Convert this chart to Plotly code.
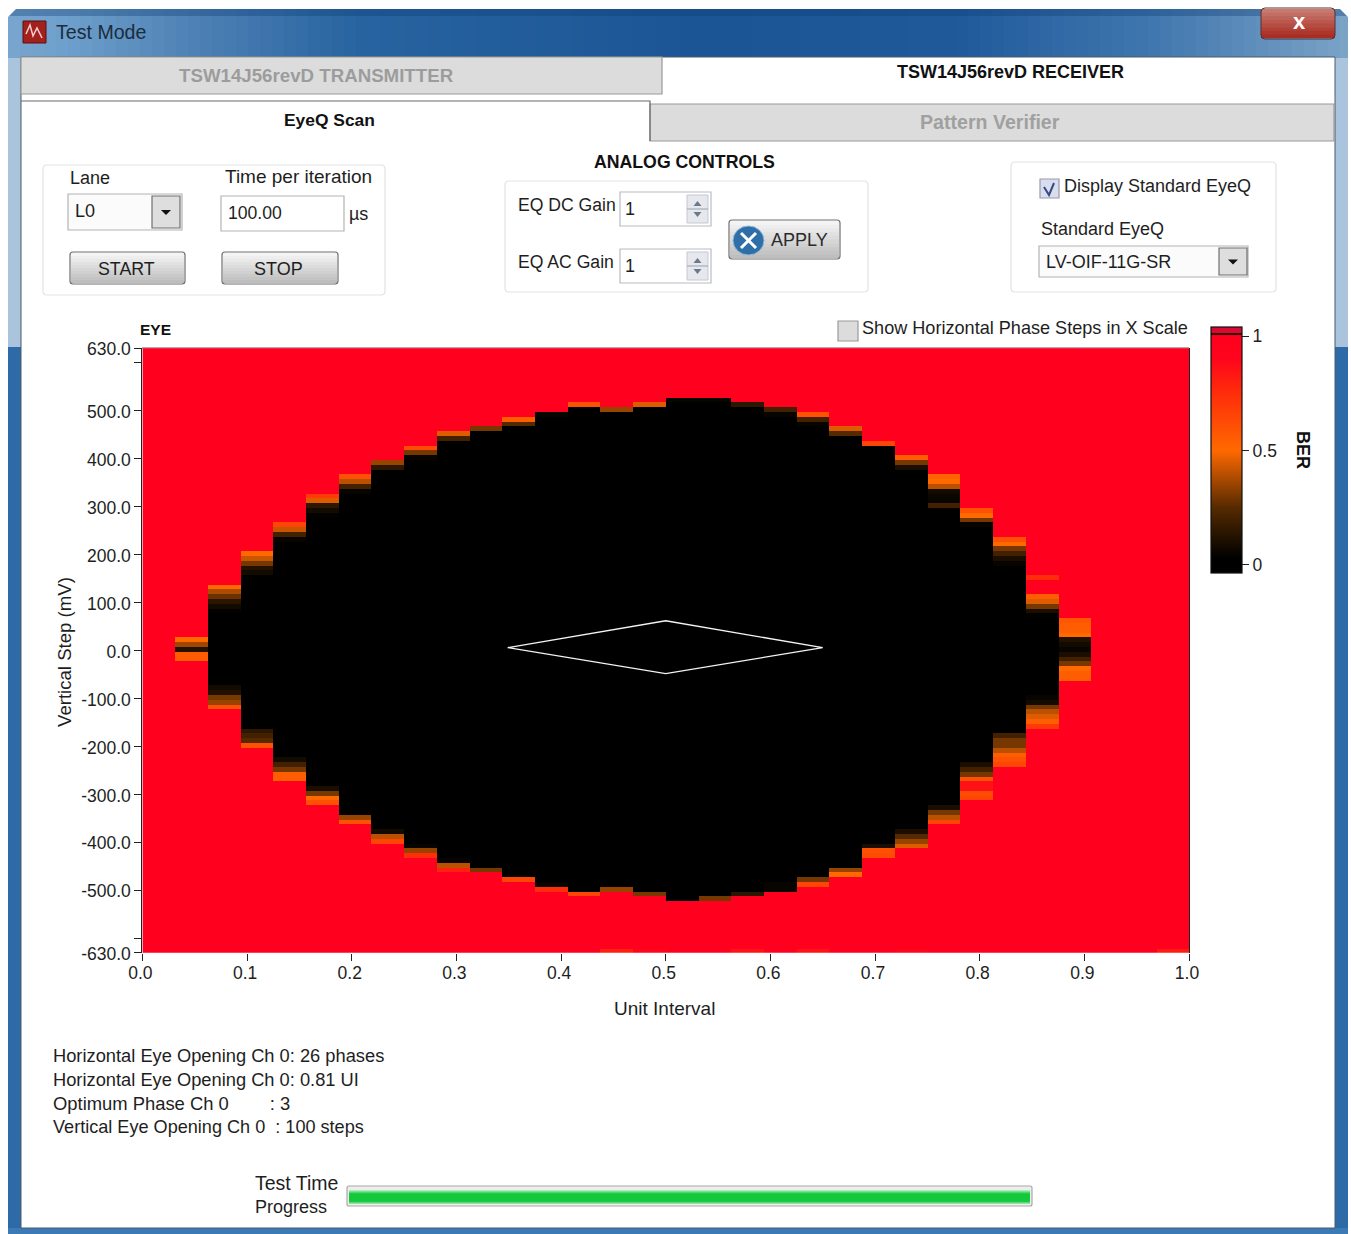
import plotly.graph_objects as go

W, H = 1351, 1234

# ---------- data ----------
phase_edges = [k / 32 for k in range(33)]
step_edges = list(range(-633, 638, 10))

# top edge (mV, nominal) of the dark eye per phase column, None = no eye in that column
eye_top = [None, 30, 140, 210, 270, 330, 370, 400, 430, 460, 470, 490, 500, 520, 510, 520,
           530, 530, 520, 510, 500, 470, 440, 410, 370, 300, 240, 160, 70, None, None, None]
# bottom edge (mV, nominal) of the dark eye per phase column
eye_bottom = [None, -20, -120, -200, -270, -320, -360, -400, -430, -460, -460, -480, -500, -510, -500, -510,
              -520, -520, -510, -500, -490, -470, -430, -410, -360, -310, -240, -160, -60, None, None, None]
# BER per 10 mV row, walking down from the top edge
upper_bands = [[], [.5, .36, .12, .56, .56], [.5, .38, .28, .14, .08, .04], [.5, .42, .3, .12, .08, .03],
               [.65, .42, .2, .05], [.7, .45, .15, .08, .04], [.6, .4, .2, .05], [.35, .15, .03],
               [.62, .3, .05], [.45, .2], [.3], [.55, .25], [.05], [.6], [.35], [.45],
               [.05], [.05], [.15], [.2, .05], [.6, .2, .05], [.45, .25], [.65], [.55, .3, .1],
               [.52, .5, .4, .08, .06, .05, .2], [.6, .5, .3, .05], [.6, .5, .3, .2, .1, .05],
               [.75, 1, 1, 1, .55, .45, .3, .1, .04], [.58, .55, .55, .5, .12, .08, .05], [], [], []]
# BER per 10 mV row, walking up from the bottom edge
lower_bands = [[], [], [.6, .35, .3, .12, .08], [.6, .25, .2, .15], [.55, .55, .3, .2, .08], [.6, .5, .3, .1],
               [.6, .35, .04], [.65, .4, .08], [.75, .35, .05], [.8, .4, .05], [.3, .02], [.65, .03],
               [.75, .05], [.65], [.35], [.3], [0], [.3], [.15], [.05, .05], [.65, .3], [.5, .35, .03],
               [.62, .6, .1], [.45, .35, .25, .1], [.65, .4, .3, .1],
               [.65, .62, .85, .85, .6, .3, .2, .1], [.65, .6, .55, .4, .3, .3, .2],
               [.7, .55, .45, .4, .3, .08, .05], [.55, .55, .5, .3, .2, .1, .05], [], [], []]
# BER of the lowest row per column (slightly below the red level in a few columns)
floor_columns = [14, 15, 18, 20, 23, 31]
floor_values = [.8, .9, .85, .85, .9, .82]

# standard eye mask
mask_ui = [0.349, 0.5, 0.65, 0.5, 0.349]
mask_mv = [6, 62, 6, -48, 6]

x_tick_vals = [i / 10 for i in range(11)]
x_tick_text = ["0.0", "0.1", "0.2", "0.3", "0.4", "0.5", "0.6", "0.7", "0.8", "0.9", "1.0"]
y_tick_vals = [630, 600, 500, 400, 300, 200, 100, 0, -100, -200, -300, -400, -500, -600, -630]
y_tick_text = ["630.0", "", "500.0", "400.0", "300.0", "200.0", "100.0", "0.0", "-100.0", "-200.0",
               "-300.0", "-400.0", "-500.0", "", "-630.0"]
cbar_vals = [0, 0.5, 1]
cbar_text = ["0", "0.5", "1"]

# ---------- build the cell grid ----------
n_rows = len(step_edges) - 1
n_cols = len(phase_edges) - 1
z = [[1.0] * n_cols for _ in range(n_rows)]
for c in range(n_cols):
    if eye_top[c] is None:
        continue
    lo = (eye_bottom[c] + 630) // 10
    hi = (eye_top[c] + 630) // 10
    for r in range(lo, hi):
        z[r][c] = 0.0
    for i, v in enumerate(upper_bands[c]):
        z[hi - 1 - i][c] = v
    for i, v in enumerate(lower_bands[c]):
        z[lo + i][c] = v
for c, v in zip(floor_columns, floor_values):
    z[0][c] = v

zmin, zmax = -0.035, 1.04
def st(v):
    return (v - zmin) / (zmax - zmin)
scale = [[0, "rgb(0,0,0)"], [st(.03), "rgb(0,0,0)"], [st(.25), "rgb(85,42,0)"], [st(.5), "rgb(255,105,0)"],
         [st(.75), "rgb(255,45,10)"], [st(.9), "rgb(255,5,28)"], [st(1.0), "rgb(255,0,30)"],
         [st(1.004), "rgb(240,0,25)"], [st(1.006), "rgb(60,0,5)"], [st(1.014), "rgb(60,0,5)"],
         [st(1.016), "rgb(215,10,50)"], [1, "rgb(215,10,50)"]]

# ---------- pixel helpers for the window chrome ----------
def X(p): return p / W
def Y(p): return 1 - p / H

shapes = []
def rect(x0, y0, x1, y1, fill=None, line=None, lw=1, opacity=1):
    shapes.append(dict(type="rect", xref="paper", yref="paper", x0=X(x0), x1=X(x1), y0=Y(y1), y1=Y(y0),
                       fillcolor=fill or "rgba(0,0,0,0)", opacity=opacity,
                       line=dict(color=line or "rgba(0,0,0,0)", width=lw if line else 0), layer="below"))
def rr(x0, y0, x1, y1, r=3, fill=None, line=None, lw=1):
    p = (f"M{X(x0+r)},{Y(y0)} L{X(x1-r)},{Y(y0)} Q{X(x1)},{Y(y0)} {X(x1)},{Y(y0+r)} L{X(x1)},{Y(y1-r)} "
         f"Q{X(x1)},{Y(y1)} {X(x1-r)},{Y(y1)} L{X(x0+r)},{Y(y1)} Q{X(x0)},{Y(y1)} {X(x0)},{Y(y1-r)} "
         f"L{X(x0)},{Y(y0+r)} Q{X(x0)},{Y(y0)} {X(x0+r)},{Y(y0)} Z")
    shapes.append(dict(type="path", xref="paper", yref="paper", path=p, fillcolor=fill or "rgba(0,0,0,0)",
                       line=dict(color=line or "rgba(0,0,0,0)", width=lw if line else 0), layer="below"))
def poly(pts, fill=None, line=None, lw=1, close=True):
    p = "M" + " L".join(f"{X(a)},{Y(b)}" for a, b in pts) + (" Z" if close else "")
    shapes.append(dict(type="path", xref="paper", yref="paper", path=p, fillcolor=fill or "rgba(0,0,0,0)",
                       line=dict(color=line or "rgba(0,0,0,0)", width=lw if line else 0), layer="below"))
def mix(a, b, t):
    return "rgb(%d,%d,%d)" % tuple(a[i] + (b[i] - a[i]) * t for i in range(3))
def vgrad(x0, y0, x1, y1, c0, c1, n=8):
    h = (y1 - y0) / n
    for i in range(n):
        rect(x0, y0 + i * h, x1, min(y0 + (i + 1) * h + .5, y1), fill=mix(c0, c1, i / max(n - 1, 1)))
def hgrad_stops(y0, y1, stops, step=12):
    x = stops[0][0]
    end = stops[-1][0]
    while x < end:
        for (a, ca), (b, cb) in zip(stops, stops[1:]):
            if a <= x <= b:
                rect(x, y0, min(x + step + .5, end), y1, fill=mix(ca, cb, (x - a) / (b - a)))
                break
        x += step
def button(x0, y0, x1, y1):
    vgrad(x0 + 1, y0 + 1, x1 - 1, y1 - 1, (244, 244, 244), (190, 190, 190), 10)
    rr(x0, y0, x1, y1, 3, None, "#6e6e6e", 1.2)
def combo(x0, y0, x1, y1, bx0, bx1):
    rect(x0, y0, x1, y1, "#fbfbfb", "#b4b4b4", 1.2)
    rect(bx0, y0 + 2, bx1, y1 - 2, "#dedede", "#707070", 1.2)
    cx, cy = (bx0 + bx1) / 2, (y0 + y1) / 2
    poly([(cx - 5, cy - 2), (cx + 5, cy - 2), (cx, cy + 3)], "#111111")
def spin(x0, y0, x1, y1):
    m = (y0 + y1) / 2
    rect(x0, y0, x1, y1, "#e6e8ee", "#c4c8d0", 1)
    cx = (x0 + x1) / 2
    poly([(cx - 4, m - 3), (cx + 4, m - 3), (cx, m - 8)], "#6a7a8a")
    poly([(cx - 4, m + 3), (cx + 4, m + 3), (cx, m + 8)], "#6a7a8a")
    rect(x0, m - .5, x1, m + .5, "#9aa0aa")

# window frame
rect(0, 0, W, H, "#ffffff")
hgrad_stops(9, 58, [(8, (120, 165, 205)), (60, (110, 160, 205)), (160, (85, 135, 185)), (350, (40, 100, 160)),
                    (700, (28, 85, 150)), (950, (32, 90, 155)), (1150, (65, 120, 175)), (1348, (125, 165, 200))])
rect(8, 9, 1348, 16, "#0f3d75", opacity=.35)
rect(8, 58, 21, 347, "#a9c4dc")
rect(1335, 58, 1348, 347, "#a9c4dc")
rect(8, 347, 21, 1234, "#2e6aa8")
rect(1335, 347, 1348, 1234, "#2e6aa8")
rect(8, 1228, 1348, 1234, "#3c7ab5")
rect(21, 57, 1335, 1228, "#ffffff", "#4a5a6a", 1)
# rounded outer corners
poly([(7, 8), (17, 8), (7, 18)], "#ffffff")
poly([(1349, 8), (1339, 8), (1349, 18)], "#ffffff")
# close button
vgrad(1261, 9, 1335, 38, (200, 120, 110), (170, 45, 35), 8)
rr(1261, 8, 1335, 39, 4, None, "#5a3030", 1)
# icon
rect(23, 21, 46, 43, "#a4201c", "#5a1010", 1)
poly([(26, 34), (30, 25), (33, 36), (37, 28), (42, 38)], None, "#f4d0d0", 1.5, close=False)
# tabs
rect(21, 57, 662, 94, "#dcdcdc", "#9a9a9a", 1.2)
rect(650, 104, 1334, 141, "#dcdcdc", "#9a9a9a", 1.2)
poly([(21, 101), (650, 101), (650, 141)], None, "#6a6a6a", 1.2, close=False)
# control groups
for b in [(43, 165, 385, 295), (505, 181, 868, 292), (1011, 162, 1276, 292)]:
    rr(*b, 4, "#ffffff", "#e3e3e3", 1.2)
combo(68, 194, 182, 230, 152, 180)
rect(221, 196, 344, 231, "#ffffff", "#b4b4b4", 1.2)
button(70, 252, 185, 284)
button(222, 252, 338, 284)
rect(620, 192, 711, 226, "#ffffff", "#b8bcc4", 1.2)
rect(620, 249, 711, 283, "#ffffff", "#b8bcc4", 1.2)
spin(687, 195, 708, 223)
spin(687, 252, 708, 280)
button(729, 220, 840, 259)
shapes.append(dict(type="circle", xref="paper", yref="paper", x0=X(733), x1=X(764), y0=Y(255), y1=Y(226),
                   fillcolor="#2f6fa8", line=dict(color="#8fb8d8", width=1), layer="below"))
poly([(741, 233), (756, 248)], None, "#ffffff", 3, close=False)
poly([(756, 233), (741, 248)], None, "#ffffff", 3, close=False)
# check boxes
rect(1040, 179, 1059, 198, "#d8def0", "#9a9aa8", 1.2)
poly([(1044, 187), (1049, 195), (1054, 183)], None, "#3a4a80", 2, close=False)
rect(838, 321, 858, 341, "#dcdcdc", "#9a9a9a", 1.2)
combo(1039, 246, 1248, 277, 1219, 1247)
# progress bar
rr(347, 1186, 1032, 1206, 2, "#eeeeee", "#a8a8a8", 1.2)
vgrad(349, 1189, 1030, 1194, (225, 245, 228), (30, 205, 70), 4)
rect(349, 1194, 1030, 1201, "#14c83c")
vgrad(349, 1201, 1030, 1204, (30, 205, 70), (150, 225, 165), 3)
# top edge of plot
rect(142, 347.5, 1189, 348.5, "#6a5050")

# ---------- text ----------
FONT = "Liberation Sans"
TXT = "#1e1e1e"
ann = []
def T(s, x, y, size=18, color=TXT, anchor="left", bold=False, angle=0):
    ann.append(dict(text=f"<b>{s}</b>" if bold else s, x=X(x), y=Y(y), xref="paper", yref="paper",
                    showarrow=False, xanchor=anchor, yanchor="middle", textangle=angle, borderpad=0,
                    font=dict(family=FONT, size=size, color=color)))
T("Test Mode", 55, 32, 19.6, "#1c2c3c")
T("x", 1299, 22, 22, "#ffffff", "center", True)
T("TSW14J56revD TRANSMITTER", 316, 75, 18.7, "#9c9c9c", "center", True)
T("TSW14J56revD RECEIVER", 1010, 72, 18, "#111111", "center", True)
T("EyeQ Scan", 329, 120, 17.4, "#111111", "center", True)
T("Pattern Verifier", 990, 122, 19.6, "#a0a0a0", "center", True)
T("ANALOG CONTROLS", 684, 162, 17.7, "#111111", "center", True)
T("Lane", 69, 178)
T("Time per iteration", 224, 177, 19)
T("L0", 74, 211)
T("100.00", 227, 213, 17.6)
T("µs", 348, 214)
T("START", 126, 269, 17.8, TXT, "center")
T("STOP", 278, 269, 18, TXT, "center")
T("EQ DC Gain", 517, 205, 17.6)
T("EQ AC Gain", 517, 262, 17.6)
T("1", 624, 209)
T("1", 624, 266)
T("APPLY", 770, 240, 18, "#2a2a2a")
T("Display Standard EyeQ", 1063, 186)
T("Standard EyeQ", 1040, 229)
T("LV-OIF-11G-SR", 1045, 262)
T("EYE", 139, 329, 15.5, "#111111", "left", True)
T("Show Horizontal Phase Steps in X Scale", 861, 328, 18.1)
T("BER", 1303, 450, 18, "#111111", "center", True, 90)
T("Vertical Step (mV)", 64, 652, 18.6, TXT, "center", False, -90)
T("Unit Interval", 664, 1008, 19, TXT, "center")
T("Horizontal Eye Opening Ch 0: 26 phases", 52, 1055, 18.3)
T("Horizontal Eye Opening Ch 0: 0.81 UI", 52, 1079, 18.3)
T("Optimum Phase Ch 0&nbsp;&nbsp;&nbsp;&nbsp;&nbsp;&nbsp;&nbsp;&nbsp;: 3", 52, 1103, 18.4)
T("Vertical Eye Opening Ch 0&nbsp;&nbsp;: 100 steps", 52, 1127, 18.1)
T("Test Time", 254, 1183, 19.5)
T("Progress", 254, 1207)

# ---------- figure ----------
tickfont = dict(family=FONT, size=17.5, color=TXT)
fig = go.Figure()
fig.add_trace(go.Heatmap(
    x=phase_edges, y=step_edges, z=z, zmin=zmin, zmax=zmax, colorscale=scale, hoverinfo="skip",
    colorbar=dict(x=1211 / W, xanchor="left", xpad=0, ypad=0, y=1 - 573 / H, yanchor="bottom",
                  len=246 / H, lenmode="fraction", thickness=31, thicknessmode="pixels",
                  tickmode="array", tickvals=cbar_vals, ticktext=cbar_text, ticks="outside", ticklen=7,
                  tickwidth=1.3, tickcolor="#222222", outlinecolor="#111111", outlinewidth=1.2,
                  tickfont=tickfont)))
fig.add_trace(go.Scatter(x=mask_ui, y=mask_mv, mode="lines", line=dict(color="#f4f4f4", width=1.3),
                         hoverinfo="skip", showlegend=False))
fig.update_layout(
    width=W, height=H, margin=dict(l=0, r=0, t=0, b=0), paper_bgcolor="#ffffff", plot_bgcolor="rgba(0,0,0,0)",
    showlegend=False, shapes=shapes, annotations=ann,
    xaxis=dict(domain=[142.4 / W, 1189 / W], range=[0, 1], tickmode="array", tickvals=x_tick_vals,
               ticktext=x_tick_text, ticks="outside", ticklen=7, tickwidth=1.3, tickcolor="#222222",
               ticklabelstandoff=-3, ticklabelshift=-2,
               showgrid=False, zeroline=False, showline=False, tickfont=tickfont, automargin=False),
    yaxis=dict(domain=[1 - 952.7 / H, 1 - 348.3 / H], range=[-630, 630], tickmode="array", tickvals=y_tick_vals,
               ticktext=y_tick_text, ticks="outside", ticklen=7, tickwidth=1.3, tickcolor="#222222",
               ticklabelshift=1,
               showgrid=False, zeroline=False, showline=True, mirror=True, linecolor="#222222", linewidth=1.3,
               tickfont=tickfont, automargin=False),
)
fig.write_html("out.html", post_script="document.body.style.margin='0';", config={"displayModeBar": False})
